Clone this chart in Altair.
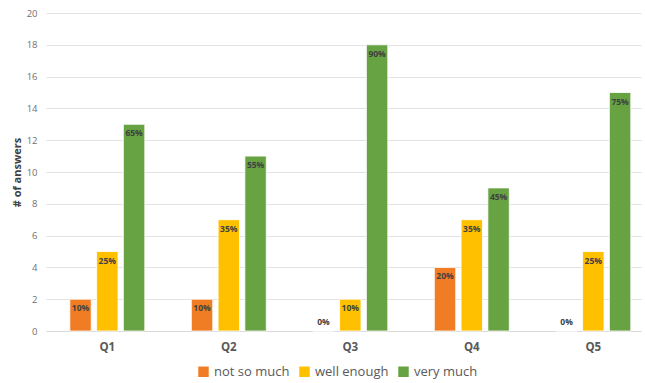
import altair as alt
import pandas as pd

questions = ["Q1", "Q2", "Q3", "Q4", "Q5"]
series = ["not so much", "well enough", "very much"]
not_so_much = [2, 2, 0, 4, 0]
well_enough = [5, 7, 2, 7, 5]
very_much = [13, 11, 18, 9, 15]
pct_not_so_much = ["10%", "10%", "0%", "20%", "0%"]
pct_well_enough = ["25%", "35%", "10%", "35%", "25%"]
pct_very_much = ["65%", "55%", "90%", "45%", "75%"]
colors = ["#F07D24", "#FFC000", "#67A243"]

rows = []
for vals, pcts, s in [(not_so_much, pct_not_so_much, series[0]),
                      (well_enough, pct_well_enough, series[1]),
                      (very_much, pct_very_much, series[2])]:
    for q, v, p in zip(questions, vals, pcts):
        rows.append({"q": q, "series": s, "value": v, "pct": p})
df = pd.DataFrame(rows)

font = "Open Sans"
x = alt.X("q:N", sort=questions, title=None,
          scale=alt.Scale(paddingInner=0.383, paddingOuter=0.14, align=0.7),
          axis=alt.Axis(labelAngle=0, labelFontWeight="bold", labelFontSize=11.5,
                        labelColor="#595959", labelFont=font, ticks=False,
                        domainColor="#D9D9D9", labelPadding=10))
xo = alt.XOffset("series:N", sort=series,
                 scale=alt.Scale(paddingInner=0.2, paddingOuter=0))
y = alt.Y("value:Q", title="# of answers",
          scale=alt.Scale(domain=[0, 20], nice=False),
          axis=alt.Axis(tickCount=10, labelOverlap=False,
                        ticks=False, domain=False,
                        gridColor="#E3E3E3", labelColor="#6F6F6F", labelFontSize=9.5,
                        labelFont=font, labelPadding=9, titleFont=font,
                        titleFontSize=11, titleFontWeight="bold",
                        titleColor="#404040", titlePadding=4))

base = alt.Chart(df).encode(x=x, xOffset=xo, y=y)

bars = base.mark_bar(stroke="white", strokeWidth=0.8).encode(
    color=alt.Color("series:N", sort=series,
                    scale=alt.Scale(domain=series, range=colors),
                    legend=alt.Legend(title=None, orient="none", direction="horizontal",
                                      legendX=151, legendY=352, symbolType="square",
                                      symbolSize=110, labelFontSize=13, labelFont=font,
                                      labelColor="#595959", columnPadding=8,
                                      symbolStrokeWidth=0)))

labels_in = base.transform_filter("datum.value > 0").mark_text(
    baseline="top", dy=5, fontSize=8.5, fontWeight="bold", color="#404040", font=font
).encode(text="pct:N")

labels_zero = base.transform_filter("datum.value == 0").mark_text(
    baseline="bottom", dy=-4, fontSize=8.5, fontWeight="bold", color="#404040", font=font
).encode(text="pct:N")

chart = alt.layer(bars, labels_in, labels_zero).properties(
    width=595, height=318,
    autosize=alt.AutoSizeParams(type="none"),
    padding={"left": 46, "top": 13, "right": 4, "bottom": 52},
).configure(background="white").configure_view(strokeWidth=0)

chart.save("out.html", embed_options={"renderer": "svg", "actions": False})
